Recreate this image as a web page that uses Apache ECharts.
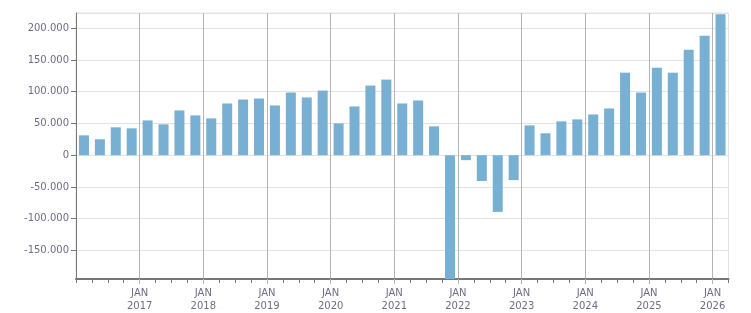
<!DOCTYPE html>
<html>
<head>
<meta charset="utf-8">
<script src="https://cdn.jsdelivr.net/npm/echarts@6/dist/echarts.min.js"></script>
<style>html,body{margin:0;padding:0;background:#fff}#c{width:751px;height:313px}</style>
</head>
<body>
<div id="c"></div>
<script>
// Quarterly categories 2016 Q1 .. 2026 Q1
var categories = ['2016 Q1','2016 Q2','2016 Q3','2016 Q4',
  '2017 Q1','2017 Q2','2017 Q3','2017 Q4',
  '2018 Q1','2018 Q2','2018 Q3','2018 Q4',
  '2019 Q1','2019 Q2','2019 Q3','2019 Q4',
  '2020 Q1','2020 Q2','2020 Q3','2020 Q4',
  '2021 Q1','2021 Q2','2021 Q3','2021 Q4',
  '2022 Q1','2022 Q2','2022 Q3','2022 Q4',
  '2023 Q1','2023 Q2','2023 Q3','2023 Q4',
  '2024 Q1','2024 Q2','2024 Q3','2024 Q4',
  '2025 Q1','2025 Q2','2025 Q3','2025 Q4',
  '2026 Q1'];
var values = [31300, 25100, 43900, 42300,
  54800, 48600, 70500, 62700,
  58000, 81500, 87700, 89300,
  78300, 98700, 90900, 101800,
  50100, 76800, 109700, 119100,
  81500, 86200, 45400, -215000,
  -7800, -40700, -89300, -39200,
  47000, 34500, 53300, 56400,
  64200, 73600, 130000, 98700,
  137900, 130000, 166100, 188000,
  222000];
// Boundary labels (month + year) at each January
var boundaryYears = ['2016','2017','2018','2019','2020','2021','2022','2023','2024','2025','2026'];
var yMin = -195000, yMax = 224000;

var boundaryCats = [];
for (var i = 0; i <= categories.length; i++) {
  boundaryCats.push(i % 4 === 0 ? 'JAN\n' + boundaryYears[i / 4] : '');
}
function fmt(v) {
  var s = Math.abs(v).toString().replace(/\B(?=(\d{3})+(?!\d))/g, '.');
  return (v < 0 ? '-' : '') + s;
}
function isJan(i) { return i % 4 === 0 && i > 0 && i <= 40; }
var font = 'DejaVu Sans';
var chart = echarts.init(document.getElementById('c'), null, {renderer: 'canvas'});
chart.setOption({
  animation: false,
  grid: {left: 76, right: 22.5, top: 13, bottom: 32, show: true, borderColor: '#e2e2e2', borderWidth: 1, backgroundColor: 'transparent'},
  xAxis: [{
    type: 'category', data: categories, boundaryGap: true, position: 'bottom',
    axisLine: {show: true, onZero: false, lineStyle: {color: '#777', width: 2}},
    axisTick: {show: true, interval: 0, length: 4, lineStyle: {color: '#777'}},
    axisLabel: {show: false},
    splitLine: {show: false}
  }, {
    type: 'category', data: boundaryCats, boundaryGap: false, position: 'bottom',
    axisLine: {show: false, onZero: false},
    axisTick: {show: true, length: 5, interval: isJan, lineStyle: {color: '#b4b4b4'}},
    axisLabel: {show: true, interval: isJan, color: '#6f6d86', fontFamily: font, fontSize: 10, lineHeight: 13, margin: 8},
    splitLine: {show: true, interval: isJan, lineStyle: {color: '#b4b4b4', width: 1}}
  }],
  yAxis: {
    type: 'value', min: yMin, max: yMax, splitNumber: 8, minInterval: 50000, maxInterval: 50000,
    axisLine: {show: true, lineStyle: {color: '#777', width: 1}},
    axisTick: {show: true, length: 5, lineStyle: {color: '#777'}},
    axisLabel: {color: '#6f6d86', fontFamily: font, fontSize: 10, margin: 7, showMinLabel: false, showMaxLabel: false, formatter: fmt},
    splitLine: {show: true, lineStyle: {color: '#e2e2e2', width: 1}}
  },
  series: [{
    type: 'bar', xAxisIndex: 0, data: values, barWidth: 10, clip: true,
    itemStyle: {color: '#77b0d2'}
  }]
});
</script>
</body>
</html>
